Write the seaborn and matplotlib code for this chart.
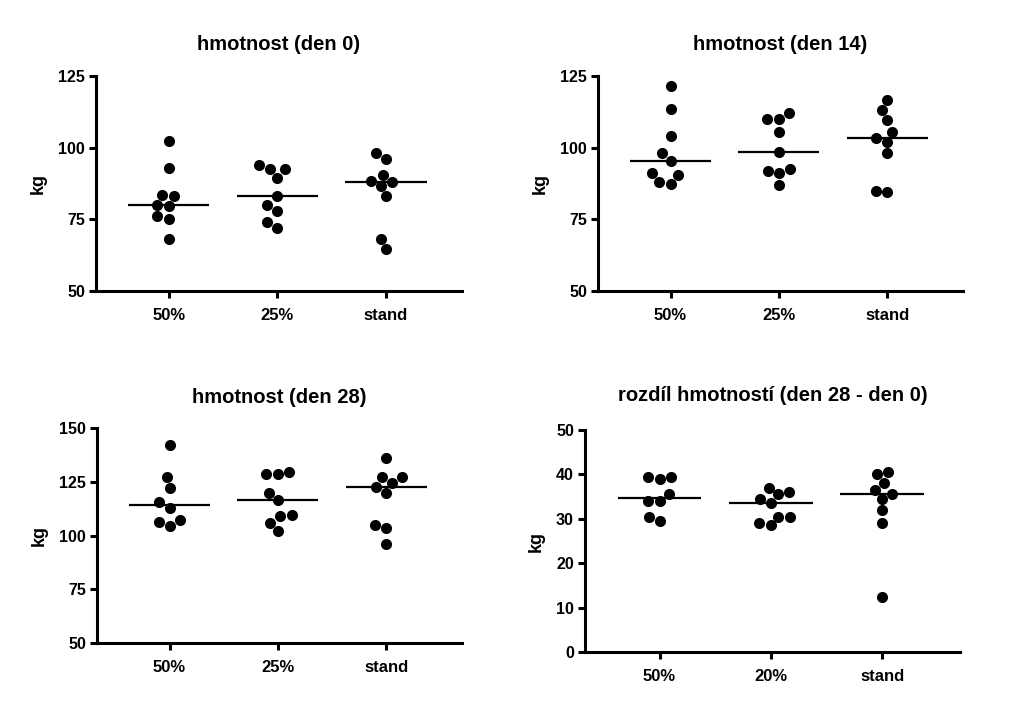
import matplotlib
matplotlib.use("Agg")
import matplotlib.pyplot as plt
import seaborn as sns
import pandas as pd

# ---- data ----
groups_a = ["50%", "25%", "stand"]
groups_b = ["50%", "20%", "stand"]

d0_50 = [102.5, 93, 83.5, 83, 80, 79.5, 76, 75, 68]
d0_25 = [94, 92.5, 92.5, 89.5, 83, 80, 78, 74, 72]
d0_st = [98, 96, 90.5, 88.5, 88, 86.5, 83, 68, 64.5]

d14_50 = [121.5, 113.5, 104, 98, 95.5, 91, 90.5, 88, 87.5]
d14_25 = [112, 110, 110, 105.5, 98.5, 92.5, 92, 91, 87]
d14_st = [116.5, 113, 109.5, 105.5, 103.5, 102, 98, 85, 84.5]

d28_50 = [142, 127, 122, 115.5, 113, 107, 106.5, 104.5]
d28_25 = [129.5, 128.5, 128.5, 120, 116.5, 109.5, 109, 106, 102]
d28_st = [136, 127, 127, 124.5, 122.5, 120, 105, 103.5, 96]

diff_50 = [39.5, 39.5, 39, 35.5, 34, 34, 30.5, 29.5]
diff_20 = [37, 36, 35.5, 34.5, 33.5, 30.5, 30.5, 29, 28.5]
diff_st = [40.5, 40, 38, 36.5, 35.5, 34.5, 32, 29, 12.5]

titles = ["hmotnost (den 0)", "hmotnost (den 14)", "hmotnost (den 28)",
          "rozdíl hmotností (den 28 - den 0)"]
ylabel = "kg"


def make_df(groups, series):
    rows = []
    for g, vals in zip(groups, series):
        for v in vals:
            rows.append({"group": g, "value": v})
    return pd.DataFrame(rows)


panels = [
    dict(df=make_df(groups_a, [d0_50, d0_25, d0_st]), order=groups_a,
         ylim=(50, 125), yticks=[50, 75, 100, 125],
         pos=[96, 76, 462, 291], pad=19),
    dict(df=make_df(groups_a, [d14_50, d14_25, d14_st]), order=groups_a,
         ylim=(50, 125), yticks=[50, 75, 100, 125],
         pos=[598, 76, 963, 291], pad=19),
    dict(df=make_df(groups_a, [d28_50, d28_25, d28_st]), order=groups_a,
         ylim=(50, 150), yticks=[50, 75, 100, 125, 150],
         pos=[97, 428, 462, 643], pad=18),
    dict(df=make_df(groups_b, [diff_50, diff_20, diff_st]), order=groups_b,
         ylim=(0, 50), yticks=[0, 10, 20, 30, 40, 50],
         pos=[585, 430, 960, 652], pad=21),
]

sns.set_theme(style="ticks")
plt.rcParams["font.family"] = ["Liberation Sans", "DejaVu Sans"]
plt.rcParams["font.weight"] = "bold"
plt.rcParams["text.color"] = "black"
plt.rcParams["axes.labelcolor"] = "black"
plt.rcParams["axes.titlecolor"] = "black"

W, H = 1024, 712
fig = plt.figure(figsize=(W / 100, H / 100), dpi=100)

for i, p in enumerate(panels):
    x0, y0, x1, y1 = p["pos"]
    ax = fig.add_axes([x0 / W, 1 - y1 / H, (x1 - x0) / W, (y1 - y0) / H])
    sns.boxplot(data=p["df"], x="group", y="value", order=p["order"], ax=ax,
                width=0.75, showbox=False, showcaps=False, showfliers=False,
                whiskerprops={"visible": False},
                medianprops={"color": "black", "linewidth": 1.6},
                color="black")
    sns.swarmplot(data=p["df"], x="group", y="value", order=p["order"], ax=ax,
                  color="black", size=8, linewidth=0, zorder=3)
    ax.set_xlim(-0.67, 2.7)
    ax.set_ylim(*p["ylim"])
    ax.set_yticks(p["yticks"])
    ax.set_xlabel("")
    ax.set_ylabel(ylabel, fontsize=13, fontweight="bold", labelpad=8,
                  color="black")
    ax.set_title(titles[i], fontsize=14.5, fontweight="bold", pad=p["pad"],
                 color="black")
    sns.despine(ax=ax)
    for s in ["left", "bottom"]:
        ax.spines[s].set_linewidth(2.2)
        ax.spines[s].set_color("black")
    ax.tick_params(axis="both", length=5, width=2.2, color="black",
                   labelcolor="black")
    ax.tick_params(axis="x", labelsize=12, pad=7)
    ax.tick_params(axis="y", labelsize=11.5, pad=3)
    for lab in ax.get_xticklabels() + ax.get_yticklabels():
        lab.set_fontweight("bold")
    ax.set_facecolor("white")

fig.savefig("out.png", dpi=100, facecolor="white")
